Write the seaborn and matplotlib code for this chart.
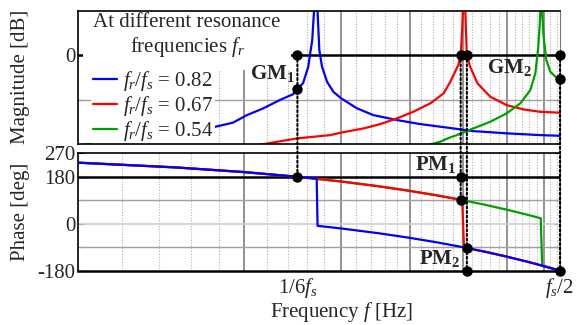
import numpy as np
import matplotlib
matplotlib.use("Agg")
import matplotlib.pyplot as plt
from matplotlib.lines import Line2D
from matplotlib.patches import ConnectionPatch
from matplotlib.ticker import FixedLocator, FixedFormatter, NullLocator
import seaborn as sns

# Frequencies in kHz, sampling frequency fs = 15 kHz
FS = 15.0
F_LO, F_HI = 1.0, FS / 2

ratios = ["0.82", "0.67", "0.54"]
colors = ["#0000ff", "#ff0000", "#00a000"]

# ---- magnitude [dB] ----
mag_f_082 = [1.0, 1.063, 1.241, 1.6, 1.909, 2.024, 2.165, 2.323, 2.455, 2.5, 2.56, 2.615,
             2.66, 2.681, 2.70, 2.719, 2.74, 2.771, 2.83, 2.906, 3.0, 3.205, 3.435, 3.79,
             4.17, 4.54, 5.22, 6.0, 6.9, 7.5]
mag_db_082 = [-40.7, -40.0, -38.2, -34.8, -30.4, -27.0, -24.0, -20.2, -17.6, -15.3, -12.6, -5.4,
              6.8, 20.5, 45.0, 20.5, 2.3, -5.2, -12.0, -16.5, -19.4, -23.9, -27.0, -29.2,
              -31.0, -32.2, -34.2, -35.2, -36.0, -36.3]

mag_f_067 = [2.10, 2.177, 2.493, 2.867, 3.0, 3.296, 3.54, 3.79, 4.06, 4.36, 4.61, 4.74,
             4.90, 4.95, 4.977, 4.997, 5.02, 5.045, 5.08, 5.15, 5.31, 5.6, 6.0, 6.43, 6.9, 7.5]
mag_db_067 = [-40.6, -40.0, -37.5, -36.0, -34.9, -33.0, -31.0, -28.5, -25.5, -21.7, -17.2, -12.0,
              -4.5, 0.0, 9.8, 20.5, 45.0, 20.5, 0.0, -5.2, -12.7, -18.7, -22.5, -24.4, -25.5, -25.9]

mag_f_054 = [4.30, 4.39, 4.54, 4.74, 4.87, 5.22, 5.6, 6.0, 6.353, 6.625, 6.765, 6.84, 6.887,
             6.908, 6.935, 6.957, 7.003, 7.083, 7.203, 7.356, 7.5]
mag_db_054 = [-40.6, -40.0, -39.0, -37.0, -36.0, -33.0, -30.0, -26.2, -21.7, -15.7, -8.2, 2.3, 12.8,
              20.5, 45.0, 20.5, 8.3, -2.2, -7.5, -9.7, -10.9]

# ---- phase [deg] ----
ph_f_082 = [1.0, 1.5, 2.0, 2.5, 2.71, 2.72, 3.0, 3.5, 4.0, 4.5, 5.0, 5.5, 6.0, 6.5, 7.0, 7.5]
ph_deg_082 = [234, 216, 198, 180, 173, -8, -18, -36, -54, -72, -90, -108, -126, -144, -162, -180]

ph_f_067 = [1.0, 1.5, 2.0, 2.5, 3.0, 3.5, 4.0, 4.5, 4.98, 5.02, 5.5, 6.0, 6.5, 7.0, 7.5]
ph_deg_067 = [234, 216, 198, 180, 162, 144, 126, 108, 91, -91, -108, -126, -144, -162, -180]

ph_f_054 = [1.0, 1.5, 2.0, 2.5, 3.0, 3.5, 4.0, 4.5, 5.0, 5.5, 6.0, 6.5, 6.92, 6.96, 7.0, 7.5]
ph_deg_054 = [234, 216, 198, 180, 162, 144, 126, 108, 90, 72, 54, 36, 21, -162, -162, -180]

mag_series = [(mag_f_082, mag_db_082), (mag_f_067, mag_db_067), (mag_f_054, mag_db_054)]
ph_series = [(ph_f_082, ph_deg_082), (ph_f_067, ph_deg_067), (ph_f_054, ph_deg_054)]

# Gain / phase margin markers
f_gm1, db_gm1 = FS / 6, -15.3
f_pm1, deg_pm1 = 4.95, 91
f_pm2, deg_pm2 = 5.08, -92
f_gm2, db_gm2 = FS / 2, -10.9

# Grid positions (kHz)
grid_major = [2, 3, 4, 5, 6, 7]
grid_minor = [round(v, 1) for v in np.arange(1.2, 7.45, 0.2) if abs(v - round(v)) > 1e-6]

sns.set_theme(style="white")
plt.rcParams["font.family"] = ["Liberation Serif", "DejaVu Serif"]
plt.rcParams["mathtext.fontset"] = "custom"
plt.rcParams["mathtext.rm"] = "Liberation Serif"
plt.rcParams["mathtext.it"] = "Liberation Serif:italic"
plt.rcParams["mathtext.bf"] = "Liberation Serif:bold"
plt.rcParams["font.size"] = 15

W, H = 577, 325
fig = plt.figure(figsize=(W / 100, H / 100), dpi=100)
L, R = 78.4, 560.0
ax_m = fig.add_axes([L / W, 1 - 144.0 / H, (R - L) / W, 133.3 / H])
ax_p = fig.add_axes([L / W, 1 - 270.7 / H, (R - L) / W, 117.4 / H], sharex=ax_m)

for ax in (ax_m, ax_p):
    ax.set_xscale("log")
    ax.set_xlim(F_LO, F_HI)
    for g in grid_minor:
        ax.axvline(g, color="#b0b0b0", lw=0.8, ls=(0, (1, 1.5)), zorder=0.8)
    for g in grid_major:
        ax.axvline(g, color="#8a8a8a", lw=1.3, zorder=0.9)
    for s in ("left", "top", "bottom"):
        ax.spines[s].set_color("black")
        ax.spines[s].set_linewidth(1.2)
    ax.spines["right"].set_color("#777777")
    ax.spines["right"].set_linewidth(0.8)
    ax.xaxis.set_minor_locator(NullLocator())
    ax.tick_params(axis="x", length=0, pad=4, labelsize=15)
    ax.tick_params(axis="y", direction="in", length=4, width=0.8, left=True, right=True,
                   pad=2, labelsize=15)

# ---- magnitude panel ----
ax_m.set_ylim(-40, 20)
ax_m.axhline(-20, color="#a0a0a0", lw=1.0, zorder=0.9)
ax_m.axhline(0, color="black", lw=1.8, zorder=1.5)
for (f, v), c in zip(mag_series, colors):
    sns.lineplot(x=f, y=v, ax=ax_m, color=c, lw=1.6, estimator=None, sort=False, zorder=2)
ax_m.yaxis.set_major_locator(FixedLocator([-20, 0]))
ax_m.yaxis.set_major_formatter(FixedFormatter(["", "0"]))
ax_m.xaxis.set_major_locator(FixedLocator([FS / 6, FS / 2]))
ax_m.tick_params(axis="x", labelbottom=False)
ax_m.set_ylabel("Magnitude [dB]", fontsize=15)
ax_m.yaxis.set_label_coords(-0.10, 0.5)

# legend title and entries on white boxes
ax_m.text(0.2255, 0.983, "At different resonance\nfrequencies $f_r$", transform=ax_m.transAxes,
          ha="center", va="top", fontsize=15, linespacing=1.2, zorder=2.4,
          bbox=dict(boxstyle="square,pad=0.5", fc="white", ec="none"))
handles = [Line2D([], [], color=c, lw=1.6) for c in colors]
labels = [f"$f_r$/$f_s$ = {r}" for r in ratios]
leg = ax_m.legend(handles, labels, loc="upper left", bbox_to_anchor=(0.026, 0.579),
                  frameon=True, fancybox=False, framealpha=1.0, edgecolor="none",
                  facecolor="white", fontsize=15, handlelength=1.15, handletextpad=0.3,
                  labelspacing=0.05, borderpad=0.1, borderaxespad=0.0)
leg.set_zorder(2.4)

# ---- phase panel ----
ax_p.set_ylim(-180, 270)
ax_p.axhline(90, color="#a0a0a0", lw=1.0, zorder=0.9)
ax_p.axhline(-90, color="#a0a0a0", lw=1.0, zorder=0.9)
ax_p.axhline(0, color="#d0d0d0", lw=1.2, zorder=0.9)
ax_p.axhline(180, color="black", lw=1.8, zorder=1.5)
for (f, v), c in list(zip(ph_series, colors))[::-1]:
    sns.lineplot(x=f, y=v, ax=ax_p, color=c, lw=1.6, estimator=None, sort=False, zorder=2)
ax_p.spines["bottom"].set_linewidth(1.8)
ax_p.yaxis.set_major_locator(FixedLocator([-180, -90, 0, 90, 180, 270]))
ax_p.yaxis.set_major_formatter(FixedFormatter(["-180", "", "0", "", "180", "270"]))
ax_p.xaxis.set_major_locator(FixedLocator([FS / 6, FS / 2]))
ax_p.xaxis.set_major_formatter(FixedFormatter(["1/6$f_s$", "$f_s$/2"]))
ax_p.set_ylabel("Phase [deg]", fontsize=15)
ax_p.yaxis.set_label_coords(-0.10, 0.5)
ax_p.set_xlabel("Frequency $f$ [Hz]", fontsize=15)
ax_p.xaxis.set_label_coords(0.546, -0.25)

# ---- margin indicators ----
dot = dict(marker="o", color="black", ms=6.5, ls="none", clip_on=False, zorder=6)
ax_m.plot([f_gm1, f_gm1, f_pm1, f_pm2, f_gm2, f_gm2], [0, db_gm1, 0, 0, 0, db_gm2], **dot)
ax_p.plot([f_gm1, f_pm1, f_pm1, f_pm2, f_pm2, f_gm2], [180, 180, deg_pm1, deg_pm2, -180, -180], **dot)

for f0, y_end in [(f_gm1, 180), (f_pm1, deg_pm1), (f_pm2, -180), (f_gm2, -180)]:
    con = ConnectionPatch(xyA=(f0, 0), coordsA=ax_m.transData, xyB=(f0, y_end),
                          coordsB=ax_p.transData, color="black", lw=1.5,
                          ls=(0, (1, 1.2)), zorder=5)
    fig.add_artist(con)

lab = dict(textcoords="offset points", ha="right", va="center", fontsize=15, zorder=7)
ax_m.annotate(r"$\mathbf{GM_1}$", xy=(f_gm1, 0), xytext=(-2, -13), **lab)
ax_m.annotate(r"$\mathbf{GM_2}$", xy=(f_gm2, 0), xytext=(-20, -9), **lab)
ax_p.annotate(r"$\mathbf{PM_1}$", xy=(f_pm1, 180), xytext=(-3, 9), **lab)
ax_p.annotate(r"$\mathbf{PM_2}$", xy=(f_pm2, -180), xytext=(-5, 9), **lab)

fig.savefig("out.png", dpi=100)
